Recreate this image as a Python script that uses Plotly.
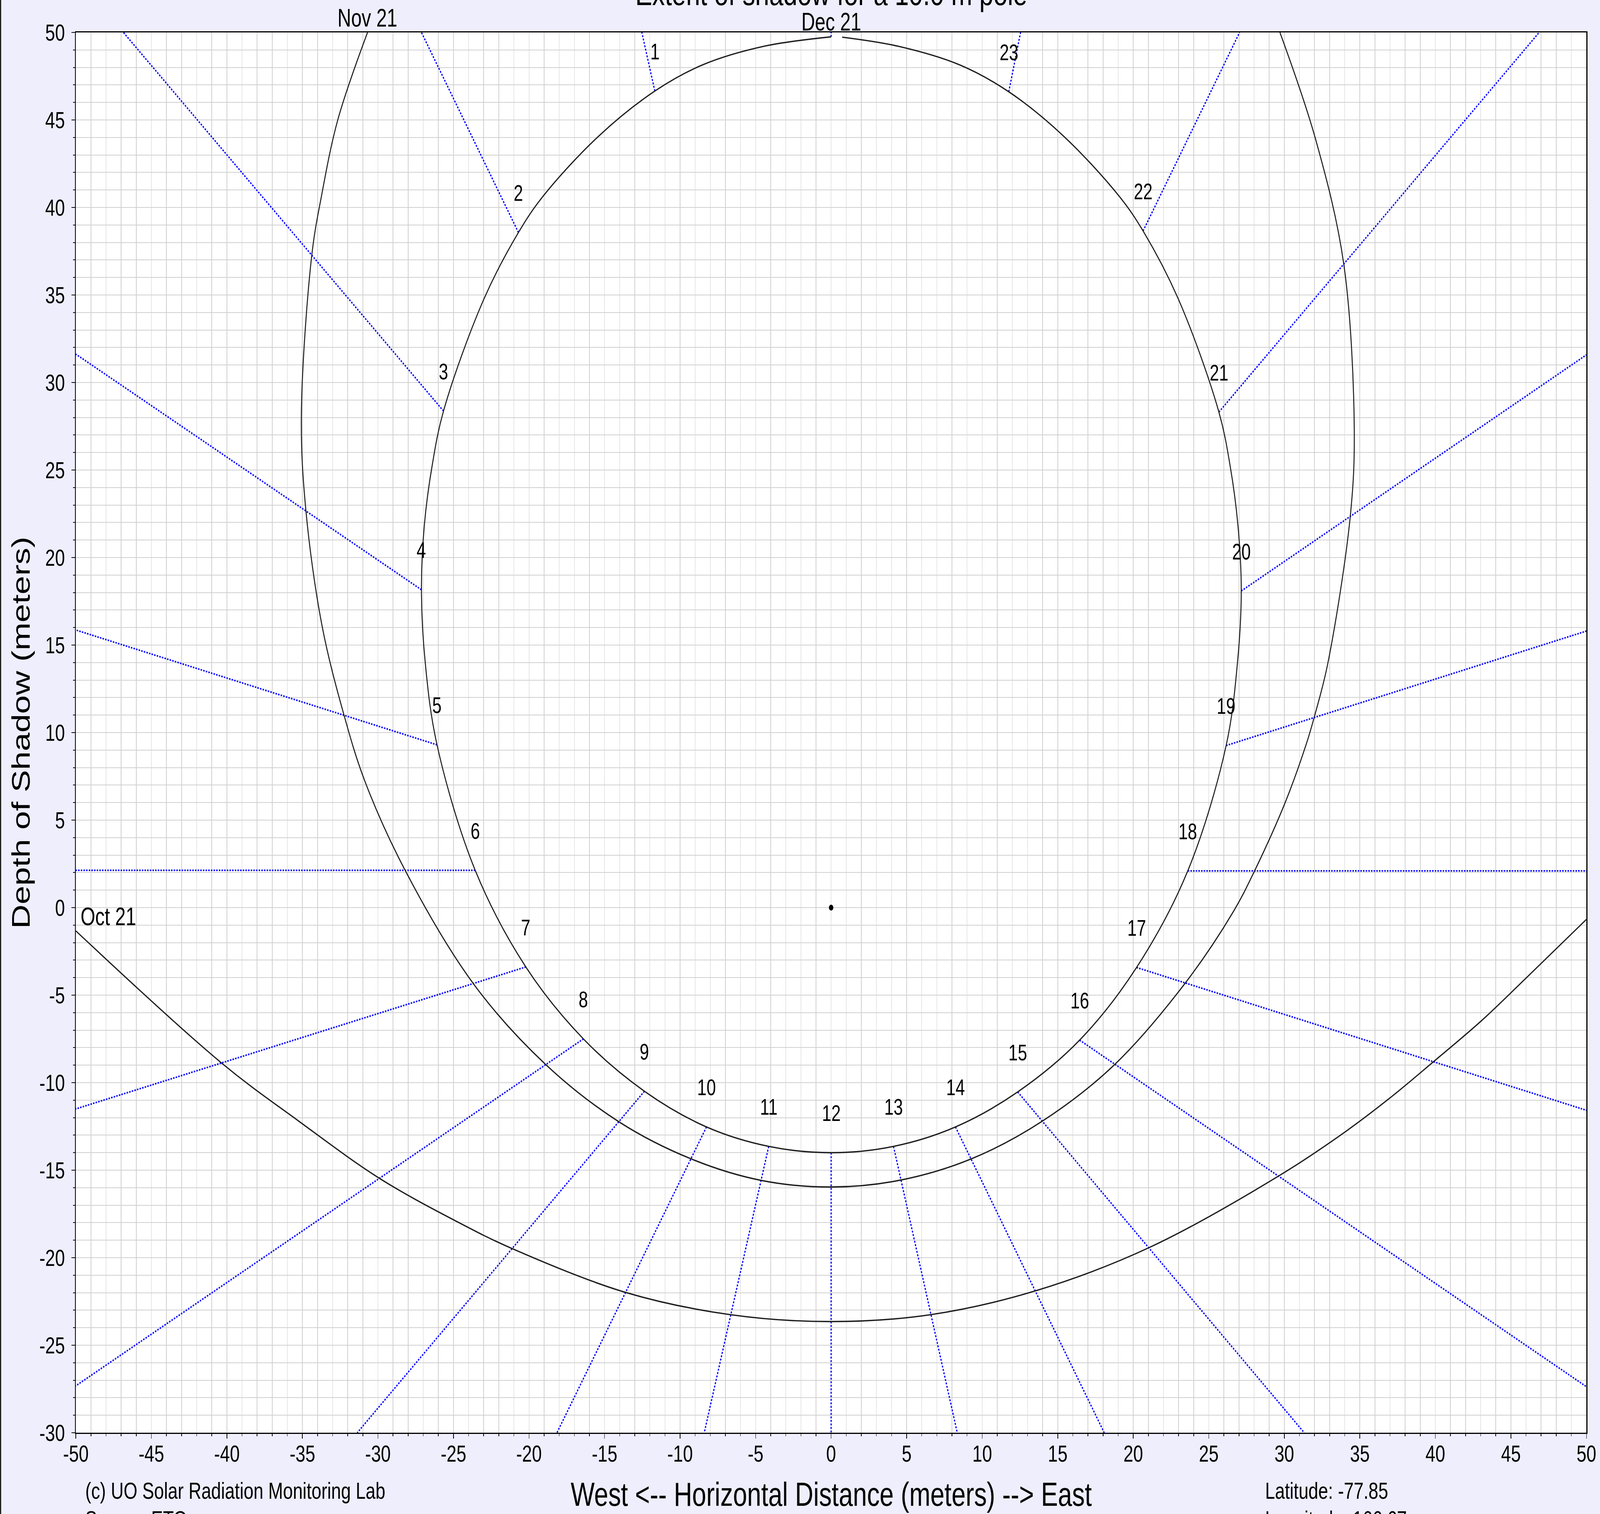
import plotly.graph_objects as go

# ---------------- data ----------------
hours = list(range(24))

# Dec 21 shadow-tip position at each hour (hour 0 .. 23): start of each hour line
dec21_x = [0.0, -11.67, -20.70, -25.66, -27.12, -26.09, -23.56, -20.21, -16.40, -12.36, -8.25, -4.13,
           0.0, 4.13, 8.23, 12.35, 16.45, 20.22, 23.61, 26.15, 27.15, 25.67, 20.65, 11.76]
dec21_y = [49.75, 46.65, 38.57, 28.37, 18.16, 9.30, 2.13, -3.39, -7.50, -10.49, -12.53, -13.64,
           -14.00, -13.64, -12.53, -10.53, -7.57, -3.42, 2.10, 9.26, 18.09, 28.31, 38.66, 46.61]

# Dec 21 curve (midnight, westward round to just before next midnight)
dec21_curve_x = [0.0, -4.5, -8.5, -11.67, -15.42, -19.08, -20.70, -23.04, -25.66, -26.41, -26.93,
                 -27.12, -26.87, -26.09, -23.56, -20.21, -16.40, -12.36, -8.25, -4.13, 0.0,
                 4.13, 8.23, 12.35, 16.45, 20.22, 23.61, 26.15, 26.90, 27.15, 26.93, 26.41,
                 25.67, 23.04, 20.65, 19.08, 15.42, 11.76, 8.5, 4.5, 0.73]
dec21_curve_y = [49.75, 49.2, 48.15, 46.65, 44.05, 40.63, 38.57, 34.66, 28.37, 25.26, 21.84,
                 18.16, 14.0, 9.30, 2.13, -3.39, -7.50, -10.49, -12.53, -13.64, -14.00,
                 -13.64, -12.53, -10.53, -7.57, -3.42, 2.10, 9.26, 14.0, 18.09, 21.84, 25.26,
                 28.31, 34.66, 38.66, 40.63, 44.05, 46.61, 48.15, 49.2, 49.73]

# Nov 21 curve (visible part, from where it leaves the top edge, round to where it re-enters)
nov21_x = [-30.69, -32.66, -33.73, -34.38, -35.07, -34.77, -33.70, -32.25, -30.86, -28.20, -23.67,
           -18.90, -14.04, -9.31, -4.65, 0.0, 4.58, 9.32, 13.98, 18.75, 23.46, 26.64, 28.01,
           30.07, 31.49, 31.98, 32.87, 34.37, 34.63, 33.93, 32.08, 29.71]
nov21_y = [50.0, 45.0, 40.69, 37.27, 28.09, 22.69, 16.10, 11.01, 7.21, 2.13, -4.36,
           -8.96, -12.24, -14.34, -15.58, -15.96, -15.57, -14.34, -12.20, -8.98, -4.29, -0.21, 2.06,
           6.03, 9.44, 10.88, 13.91, 22.38, 27.41, 36.80, 43.87, 50.0]

# Oct 21 curve (open, runs off both sides)
oct21_x = [-50.0, -40.35, -35.32, -29.91, -24.72, -21.12, -13.66, -6.71, 0.0,
           6.63, 13.54, 21.06, 29.63, 34.11, 37.10, 39.88, 43.08, 46.07, 50.0]
oct21_y = [-1.33, -8.88, -12.15, -15.46, -17.96, -19.48, -21.97, -23.25, -23.65,
           -23.25, -21.89, -19.42, -15.33, -12.76, -10.80, -8.80, -6.44, -3.97, -0.67]

# far end of each hour line (hour 0 .. 23), where it leaves the chart
hour_end_x = [0.0, -12.53, -27.12, -46.85, -50.0, -50.0, -50.0, -50.0, -50.0, -31.37, -18.15, -8.40,
              0.0, 8.35, 18.08, 31.32, 50.0, 50.0, 50.0, 50.0, 50.0, 46.87, 27.04, 12.54]
hour_end_y = [50.0, 50.0, 50.0, 50.0, 31.62, 15.86, 2.13, -11.50, -27.32, -30.0, -30.0, -30.0,
              -30.0, -30.0, -30.0, -30.0, -27.37, -11.58, 2.10, 15.80, 31.58, 50.0, 50.0, 50.0]

date_labels = ["Dec 21", "Nov 21", "Oct 21"]
x_ticks = list(range(-50, 55, 5))
y_ticks = list(range(-30, 55, 5))

title_text = "Extent of shadow for a 10.0 m pole"
x_title = "West <-- Horizontal Distance (meters) --> East"
y_title = "Depth of Shadow (meters)"
credit_lines = ["(c) UO Solar Radiation Monitoring Lab", "Source: ETO"]
site_lines = ["Latitude: -77.85", "Longitude: 166.67"]

# ---------------- figure ----------------
W, H = 5423, 3875
ML, MR, MT, MB = 257, 46, 83, 208
PW, PH = W - ML - MR, H - MT - MB

FONT = "Liberation Sans, Arial, Helvetica, sans-serif"
GRID = "#d0d0d0"
BLUE = "#0000ff"
CURVE = "#1e1e1e"

fig = go.Figure()

# hour lines
hx, hy = [], []
for h in hours:
    hx += [dec21_x[h], hour_end_x[h], None]
    hy += [dec21_y[h], hour_end_y[h], None]
fig.add_trace(go.Scatter(x=hx, y=hy, mode="lines",
                         line=dict(color=BLUE, width=4, dash="5px,4px"),
                         hoverinfo="skip"))

# date curves
for cx, cy in [(dec21_curve_x, dec21_curve_y), (nov21_x, nov21_y), (oct21_x, oct21_y)]:
    fig.add_trace(go.Scatter(x=cx, y=cy, mode="lines",
                             line=dict(color=CURVE, width=3.4, shape="spline", smoothing=1.0),
                             hoverinfo="skip"))

# pole position
fig.add_trace(go.Scatter(x=[0], y=[0], mode="markers",
                         marker=dict(color="black", size=15), hoverinfo="skip"))

ann = []
# hour labels
for h in hours[1:]:
    ann.append(dict(x=dec21_x[h], y=dec21_y[h], xref="x", yref="y", text=str(h),
                    showarrow=False, xanchor="center", yanchor="middle", yshift=101,
                    font=dict(size=57, color="black")))
# date labels
ann.append(dict(x=dec21_curve_x[0], y=dec21_curve_y[0], xref="x", yref="y", text=date_labels[0],
                showarrow=False, xanchor="center", yanchor="middle", yshift=38,
                font=dict(size=64, color="black")))
ann.append(dict(x=nov21_x[0], y=nov21_y[0], xref="x", yref="y", text=date_labels[1],
                showarrow=False, xanchor="center", yanchor="middle", yshift=37,
                font=dict(size=64, color="black")))
ann.append(dict(x=oct21_x[0], y=oct21_y[0], xref="x", yref="y", text=date_labels[2],
                showarrow=False, xanchor="left", yanchor="middle", yshift=37, xshift=14,
                font=dict(size=64, color="black")))
# title
ann.append(dict(x=0.5, y=1 + (MT + 17) / PH, xref="paper", yref="paper", text=title_text,
                showarrow=False, xanchor="center", yanchor="middle",
                font=dict(size=86, color="black")))
# axis titles
ann.append(dict(x=0.5, y=-(3824 - (H - MB)) / PH, xref="paper", yref="paper", text=x_title,
                showarrow=False, xanchor="center", yanchor="middle",
                font=dict(size=86, color="black")))
ann.append(dict(x=-(ML - 70) / PW, y=0.5, xref="paper", yref="paper", text=y_title,
                showarrow=False, xanchor="center", yanchor="middle", textangle=-90,
                font=dict(size=86, color="black")))
# footer texts
for i, t in enumerate(credit_lines):
    ann.append(dict(x=(287 - ML) / PW, y=-(3815 + 74 * i - (H - MB)) / PH, xref="paper", yref="paper",
                    text=t, showarrow=False, xanchor="left", yanchor="middle",
                    font=dict(size=60, color="black")))
for i, t in enumerate(site_lines):
    ann.append(dict(x=(4286 - ML) / PW, y=-(3815 + 74 * i - (H - MB)) / PH, xref="paper", yref="paper",
                    text=t, showarrow=False, xanchor="left", yanchor="middle",
                    font=dict(size=60, color="black")))

axis_common = dict(
    tickmode="array", ticks="outside", ticklen=12, tickwidth=2, tickcolor="black",
    showline=True, linecolor="black", linewidth=3, mirror=True,
    showgrid=True, gridcolor=GRID, gridwidth=2, zeroline=False,
    tickfont=dict(size=60, color="black", family=FONT),
    minor=dict(dtick=1, ticks="outside", ticklen=6, tickwidth=2, tickcolor="black",
               showgrid=True, gridcolor=GRID, gridwidth=2),
)

fig.update_xaxes(range=[-50, 50], tickvals=x_ticks, ticktext=[str(v) for v in x_ticks],
                 ticklabelstandoff=-13, **axis_common)
fig.update_yaxes(range=[-30, 50], tickvals=y_ticks, ticktext=[str(v) for v in y_ticks],
                 ticklabelstandoff=10, **axis_common)

fig.update_layout(
    width=W, height=H, autosize=False,
    margin=dict(l=ML, r=MR, t=MT, b=MB, pad=0),
    paper_bgcolor="#eeeefd", plot_bgcolor="white",
    showlegend=False,
    font=dict(family=FONT, color="black"),
    annotations=ann,
    shapes=[dict(type="line", xref="paper", yref="paper",
                 x0=-(ML - 2) / PW, x1=-(ML - 2) / PW, y0=-MB / PH, y1=1 + MT / PH,
                 line=dict(color="#222222", width=4))],
)

# Fit the drawn figure exactly into the browser viewport (the window may be smaller
# than the requested pixel size); the drawing is scaled after plotly has rendered it.
fit_js = """
(function(){
  var gd = document.getElementById('{plot_id}');
  var W0 = %d, H0 = %d;
  var de = document.documentElement, b = document.body;
  de.style.margin = '0'; b.style.margin = '0'; de.style.padding = '0'; b.style.padding = '0';
  de.style.overflow = 'hidden'; b.style.overflow = 'hidden';
  var sx = window.innerWidth / W0, sy = window.innerHeight / H0;
  if (!isFinite(sx) || sx <= 0) sx = 1;
  if (!isFinite(sy) || sy <= 0) sy = 1;
  if (Math.abs(sx - 1) < 1e-3 && Math.abs(sy - 1) < 1e-3) return;
  gd.style.transformOrigin = '0 0';
  gd.style.transform = 'scale(' + sx + ',' + sy + ')';
})();
""" % (W, H)

fig.write_html("out.html", post_script=fit_js, config={"displayModeBar": False})
